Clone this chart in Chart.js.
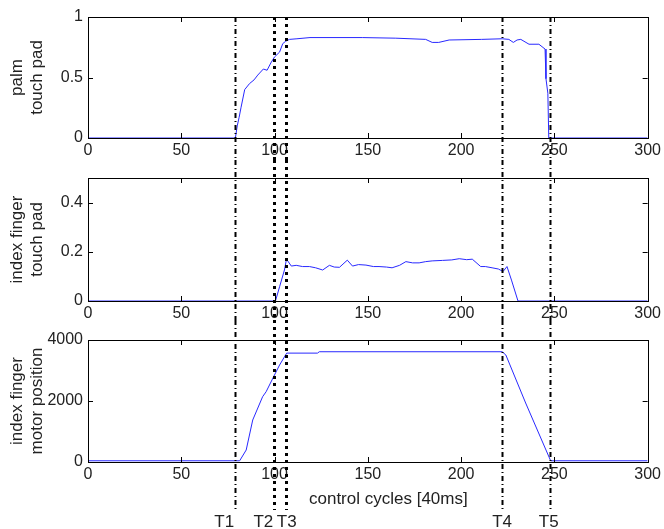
<!DOCTYPE html>
<html lang="en">
<head>
<meta charset="UTF-8">
<title>Grasp phases</title>
<script src="https://cdn.jsdelivr.net/npm/chart.js"></script>
<style>
  body { margin: 0; background: #fff; width: 664px; height: 529px; overflow: hidden; position: relative; }
  canvas { position: absolute; left: 0; }
</style>
</head>
<body>
<canvas id="palm" width="664" height="160" style="top:0"></canvas>
<canvas id="index" width="664" height="160" style="top:160px"></canvas>
<canvas id="motor" width="664" height="209" style="top:320px"></canvas>

<script>
// values
const xTicks = [0, 50, 100, 150, 200, 250, 300];

const palmX = [0, 79, 80, 81, 82, 84, 86.6, 89, 91, 94, 96, 98, 100, 102.7, 104.4, 106, 108, 112, 119, 147, 165, 181, 184.5, 188, 193.6, 211, 222, 225.6, 228, 230, 232, 236.4, 241.7, 245, 245.5, 246.5, 247, 248, 300];
const palmY = [0, 0, 0.1, 0.17, 0.25, 0.4, 0.45, 0.48, 0.52, 0.57, 0.56, 0.62, 0.67, 0.71, 0.78, 0.8, 0.815, 0.82, 0.83, 0.83, 0.825, 0.815, 0.79, 0.79, 0.81, 0.815, 0.82, 0.815, 0.79, 0.81, 0.815, 0.775, 0.775, 0.735, 0.49, 0.37, 0, 0, 0];
const palmTicks = [0, 0.5, 1];

const idxX = [0, 100.5, 102.7, 105.3, 106.4, 109, 111.6, 115, 118.7, 122, 125.8, 129.4, 132, 134.8, 139, 141.8, 145, 149, 153, 156, 160, 163, 167, 170.4, 174, 177.5, 181, 184.5, 190, 195, 199, 203, 206, 210.5, 213, 216.6, 220, 222.5, 224.6, 227, 230.5, 300];
const idxY = [0, 0, 0.058, 0.126, 0.17, 0.142, 0.145, 0.14, 0.14, 0.135, 0.126, 0.145, 0.138, 0.137, 0.166, 0.142, 0.148, 0.146, 0.14, 0.14, 0.138, 0.135, 0.145, 0.16, 0.155, 0.155, 0.16, 0.163, 0.165, 0.167, 0.172, 0.168, 0.17, 0.14, 0.14, 0.135, 0.13, 0.12, 0.14, 0.085, 0, 0];
const idxTicks = [0, 0.2, 0.4];

const motX = [0, 81.3, 84.8, 88.3, 93.6, 95.5, 99.5, 102.7, 106.5, 123, 124, 222, 224, 234.6, 248, 300];
const motY = [40, 40, 393, 1377, 2141, 2305, 2797, 3180, 3570, 3570, 3615, 3615, 3508, 1934, 40, 40];
const motTicks = [0, 2000, 4000];

// phase markers
const markX = [79, 99.5, 106, 222, 247.5];
const markNames = ['T1', 'T2', 'T3', 'T4', 'T5'];
const markLabelX = [73, 94, 106.5, 222, 247];
const markBold = [false, true, true, false, false];

const xLabel = 'control cycles [40ms]';
const xLabelAt = 161;

const FAMILY = '"Liberation Sans", Arial, sans-serif';
const TICKFONT = { family: FAMILY, size: 16 };
const TEXT = '#222';

function pts(xs, ys) { return xs.map((x, i) => ({ x: x, y: ys[i] })); }

// matlab-like frame with inward ticks + the dash-dot phase lines
const framePlugin = {
  id: 'frame',
  afterDraw(chart, args, opts) {
    const ctx = chart.ctx, a = chart.chartArea;
    const xs = chart.scales.x, ys = chart.scales.y;
    ctx.save();
    ctx.strokeStyle = '#000';
    ctx.lineWidth = 1;
    ctx.strokeRect(Math.round(a.left) + 0.5, Math.round(a.top) + 0.5, Math.round(a.width), Math.round(a.height));
    ctx.beginPath();
    xs.ticks.forEach(t => {
      const px = Math.round(xs.getPixelForValue(t.value)) + 0.5;
      ctx.moveTo(px, a.bottom); ctx.lineTo(px, a.bottom - 5);
      ctx.moveTo(px, a.top); ctx.lineTo(px, a.top + 5);
    });
    ys.ticks.forEach(t => {
      const py = Math.round(ys.getPixelForValue(t.value)) + 0.5;
      ctx.moveTo(a.left, py); ctx.lineTo(a.left + 5, py);
      ctx.moveTo(a.right, py); ctx.lineTo(a.right - 5, py);
    });
    ctx.stroke();

    const y0 = opts.fromTop ? a.top : 0;
    const y1 = opts.lineEnd || chart.height;
    markX.forEach((m, i) => {
      const px = Math.round(xs.getPixelForValue(m)) + 0.5;
      ctx.beginPath();
      ctx.lineWidth = markBold[i] ? 3 : 2;
      ctx.setLineDash(markBold[i] ? [3, 4] : [5, 3, 1, 3]);
      ctx.moveTo(px, y0); ctx.lineTo(px, y1);
      ctx.stroke();
    });
    ctx.setLineDash([]);
    if (opts.labels) {
      ctx.fillStyle = TEXT;
      ctx.font = '17px ' + FAMILY;
      ctx.textAlign = 'center';
      ctx.textBaseline = 'middle';
      markNames.forEach((n, i) => {
        ctx.fillText(n, xs.getPixelForValue(markLabelX[i]), opts.labelY);
      });
      ctx.fillText(xLabel, xs.getPixelForValue(xLabelAt), opts.titleY);
    }
    ctx.restore();
  }
};

function makeChart(id, xs, ys, yMax, yTicks, yTitle, cfg) {
  new Chart(document.getElementById(id), {
    type: 'line',
    data: {
      datasets: [{
        data: pts(xs, ys),
        borderColor: 'rgb(40, 40, 255)',
        borderWidth: 1,
        pointRadius: 0,
        tension: 0,
        fill: false
      }]
    },
    options: {
      responsive: false,
      animation: false,
      layout: { padding: { top: cfg.top, right: 15, left: 0, bottom: 0 } },
      plugins: {
        legend: { display: false },
        tooltip: { enabled: false },
        frame: cfg.frame
      },
      scales: {
        x: {
          type: 'linear', min: 0, max: 300,
          grid: { display: false, drawTicks: false },
          border: { display: false },
          afterBuildTicks: s => { s.ticks = xTicks.map(v => ({ value: v })); },
          afterFit: s => { s.height = cfg.xh; },
          ticks: { color: TEXT, font: TICKFONT, padding: 3, maxRotation: 0, callback: v => String(v) }
        },
        y: {
          type: 'linear', min: 0, max: yMax,
          grid: { display: false, drawTicks: false },
          border: { display: false },
          afterBuildTicks: s => { s.ticks = yTicks.map(v => ({ value: v })); },
          afterFit: s => { s.width = 88; },
          ticks: { color: TEXT, font: TICKFONT, padding: 5, callback: v => String(v) },
          title: { display: true, text: yTitle, color: TEXT, font: { family: FAMILY, size: 17, lineHeight: 1.2 }, padding: { top: 7, bottom: 0 } }
        }
      }
    },
    plugins: [framePlugin]
  });
}

makeChart('palm', palmX, palmY, 1, palmTicks, ['palm', 'touch pad'],
  { top: 17, xh: 22, frame: { fromTop: true } });
makeChart('index', idxX, idxY, 0.5, idxTicks, ['index finger', 'touch pad'],
  { top: 18, xh: 19, frame: {} });
makeChart('motor', motX, motY, 4000, motTicks, ['index finger', 'motor position'],
  { top: 20, xh: 67, frame: { lineEnd: 190, labels: true, labelY: 202, titleY: 179 } });
</script>
</body>
</html>
